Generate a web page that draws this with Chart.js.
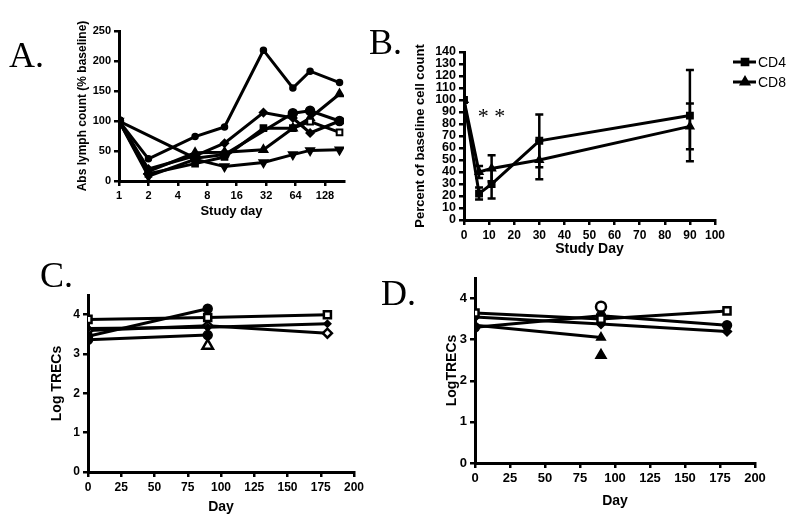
<!DOCTYPE html>
<html><head><meta charset="utf-8">
<script src="https://cdn.jsdelivr.net/npm/chart.js@4"></script>
<style>
html,body{margin:0;padding:0;background:#fff;width:800px;height:525px;overflow:hidden}
canvas{position:absolute;left:0;top:0}
.lbl{position:absolute;font-family:"Liberation Serif","Times New Roman",serif;font-size:36px;color:#000;line-height:1}
</style></head><body>
<canvas id="cA" width="800" height="525"></canvas>
<canvas id="cB" width="800" height="525"></canvas>
<canvas id="cC" width="800" height="525"></canvas>
<canvas id="cD" width="800" height="525"></canvas>
<div class="lbl" style="left:9px;top:37px">A.</div>
<div class="lbl" style="left:369px;top:24px">B.</div>
<div class="lbl" style="left:40px;top:257px">C.</div>
<div class="lbl" style="left:381px;top:275px">D.</div>
<script>
// ---------- Panel A data ----------
const aDays = [1, 2, 6, 12, 30, 60, 90, 180];
const aXTicks = [1, 2, 4, 8, 16, 32, 64, 128];
const aYTicks = [0, 50, 100, 150, 200, 250];
const aS1 = [100, 37, 74, 90, 218, 155, 183, 164];
const aS2 = [100, 20, 42, 63, 114, 105, 80, 100];
const aS3 = [100, 12, 29, 40, 88, 88, 99, 81];
const aS4 = [100, 16, 47, 48, 52, 88, 105, 145];
const aS5 = [100, 8, 36, 24, 31, 44, 51, 52];
const aS6 = [100, null, 38, 44, null, 113, 117, 100];

// ---------- Panel B data ----------
const bDays = [0, 6, 11, 30, 90];
const bXTicks = [0, 10, 20, 30, 40, 50, 60, 70, 80, 90, 100];
const bYTicks = [0, 10, 20, 30, 40, 50, 60, 70, 80, 90, 100, 110, 120, 130, 140];
const cd4 = [100, 22, 30, 66, 87];
const cd4Err = [0, 5, 12, 22, 38];
const cd8 = [100, 40, 43, 50, 78];
const cd8Err = [0, 5, 11, 16, 19];
const bLegend = ["CD4", "CD8"];

// ---------- Panel C data ----------
const cDays = [0, 90, 180];
const cdXTicks = [0, 25, 50, 75, 100, 125, 150, 175, 200];
const cdYTicks = [0, 1, 2, 3, 4];
const c1 = [3.88, 3.93, 4.00];
const c2 = [3.45, 4.15, null];
const c3 = [3.65, 3.68, 3.77];
const c4 = [3.60, 3.72, 3.53];
const c5 = [3.36, 3.48, null];
const c6 = [null, 3.21, null];

// ---------- Panel D data ----------
const d1 = [3.65, 3.50, 3.70];
const d2 = [3.55, 3.38, 3.20];
const d3 = [3.35, 3.05, null];
const d4 = [3.30, 3.58, 3.35];
const d5 = [null, 3.80, null];
const d6 = [null, 2.62, null];

Chart.defaults.font.family = '"Liberation Sans", Arial, sans-serif';
Chart.defaults.font.weight = 'bold';
Chart.defaults.color = '#000';
Chart.defaults.animation = false;

function pts(xs, ys) { return xs.map((x, i) => ({x: x, y: ys[i]})); }

function layout(p) {
  const padL = p.ytx - p.ylh / 2;
  const yW = p.L - padL;
  const xBottom = p.xty + p.xlh / 2;
  const xH = xBottom - p.B;
  return {padding: {left: padL, top: p.T, right: 800 - p.R, bottom: 525 - xBottom}, yW: yW, xH: xH};
}

function ds(data, style, opts) {
  return Object.assign({
    data: data, borderColor: '#000', borderWidth: 3, pointStyle: style,
    pointBackgroundColor: '#000', pointBorderColor: '#000', pointBorderWidth: 1.5,
    pointRadius: 4, spanGaps: true, tension: 0, fill: false
  }, opts || {});
}

function axisCommon(tickSize) {
  return {
    grid: {display: true, drawOnChartArea: false, drawTicks: true, tickLength: 5, color: '#000', lineWidth: 2.5},
    border: {display: true, color: '#000', width: 3},
    ticks: {autoSkip: false, maxRotation: 0, padding: 3, font: {size: tickSize, weight: 'bold'}, color: '#000'}
  };
}

function makeChart(id, lay, datasets, xCfg, yCfg, plugins) {
  const L = layout(lay);
  const xs = axisCommon(xCfg.tickSize);
  const ys = axisCommon(yCfg.tickSize);
  xs.type = xCfg.type || 'linear';
  xs.position = 'bottom';
  xs.min = xCfg.min; xs.max = xCfg.max;
  xs.offset = false;
  xs.afterBuildTicks = s => { s.ticks = xCfg.ticks.map(v => ({value: v})); };
  xs.afterFit = s => { s.height = L.xH; };
  xs.ticks.callback = v => String(v);
  xs.title = {display: true, text: xCfg.title, font: {size: xCfg.titleSize, weight: 'bold'}, padding: 0, color: '#000'};
  ys.type = 'linear';
  ys.min = yCfg.min; ys.max = yCfg.max;
  ys.afterBuildTicks = s => { s.ticks = yCfg.ticks.map(v => ({value: v})); };
  ys.afterFit = s => { s.width = L.yW; };
  ys.ticks.callback = v => String(v);
  ys.title = {display: true, text: yCfg.title, font: {size: yCfg.titleSize, weight: 'bold'}, padding: 0, color: '#000'};
  return new Chart(document.getElementById(id), {
    type: 'line',
    data: {datasets: datasets},
    options: {
      responsive: false, animation: false,
      layout: {padding: L.padding},
      plugins: {legend: {display: false}, tooltip: {enabled: false}},
      scales: {x: xs, y: ys}
    },
    plugins: plugins || []
  });
}

// ---------- Panel A ----------
makeChart('cA',
  {L: 119, T: 31, R: 344, B: 181, ytx: 83, ylh: 14.4, xty: 211, xlh: 15.6},
  [
    ds(pts(aDays, aS1), 'circle', {pointRadius: 3}),
    ds(pts(aDays, aS2), 'rectRot', {pointRadius: 4}),
    ds(pts(aDays, aS3), 'rect', {pointRadius: 4, pointBackgroundColor: ['#000','#000','#000','#000','#000','#000','#fff','#fff'], pointBorderWidth: 2}),
    ds(pts(aDays, aS4), 'triangle', {pointRadius: 5}),
    ds(pts(aDays, aS5), 'triangle', {pointRadius: 5, pointRotation: 180}),
    ds(pts(aDays, aS6), 'circle', {pointRadius: 4.5})
  ],
  {type: 'logarithmic', min: 1, max: 200, ticks: aXTicks, tickSize: 11, title: 'Study day', titleSize: 13},
  {min: 0, max: 250, ticks: aYTicks, tickSize: 11, title: 'Abs lymph count (% baseline)', titleSize: 12}
);

// ---------- Panel B ----------
const errPlugin = {
  id: 'errbars',
  afterDatasetsDraw(chart) {
    const ctx = chart.ctx, xS = chart.scales.x, yS = chart.scales.y;
    ctx.save();
    ctx.strokeStyle = '#000'; ctx.lineWidth = 2.5;
    chart.data.datasets.forEach(d => {
      if (!d.errors) return;
      d.data.forEach((p, i) => {
        const e = d.errors[i];
        if (!e) return;
        const x = xS.getPixelForValue(p.x);
        const y1 = yS.getPixelForValue(p.y + e), y2 = yS.getPixelForValue(p.y - e);
        ctx.beginPath();
        ctx.moveTo(x, y1); ctx.lineTo(x, y2);
        ctx.moveTo(x - 4, y1); ctx.lineTo(x + 4, y1);
        ctx.moveTo(x - 4, y2); ctx.lineTo(x + 4, y2);
        ctx.stroke();
      });
    });
    // significance stars
    ctx.fillStyle = '#000';
    ctx.font = '22px "Liberation Serif", serif';
    ctx.textAlign = 'center'; ctx.textBaseline = 'middle';
    ctx.fillText('* *', xS.getPixelForValue(11), yS.getPixelForValue(86));
    // legend
    const items = [{t: bLegend[0], s: 'rect'}, {t: bLegend[1], s: 'triangle'}];
    items.forEach((it, k) => {
      const ly = 62 + k * 20;
      ctx.lineWidth = 3;
      ctx.beginPath(); ctx.moveTo(733, ly); ctx.lineTo(756, ly); ctx.stroke();
      Chart.helpers.drawPoint(ctx, {pointStyle: it.s, radius: 4, borderWidth: 1}, 745, ly);
      ctx.fillStyle = '#000';
      ctx.fill();
      ctx.font = '14px "Liberation Sans", Arial, sans-serif';
      ctx.textAlign = 'left';
      ctx.fillText(it.t, 758, ly + 1);
    });
    ctx.restore();
  }
};
makeChart('cB',
  {L: 464, T: 52, R: 715, B: 220, ytx: 420, ylh: 15.6, xty: 249, xlh: 16.8},
  [
    ds(pts(bDays, cd4), 'rect', {pointRadius: 4.5, errors: cd4Err}),
    ds(pts(bDays, cd8), 'triangle', {pointRadius: 4.5, errors: cd8Err})
  ],
  {min: 0, max: 100, ticks: bXTicks, tickSize: 12, title: 'Study Day', titleSize: 14},
  {min: 0, max: 140, ticks: bYTicks, tickSize: 12.5, title: 'Percent of baseline cell count', titleSize: 13},
  [errPlugin]
);

// ---------- Panel C ----------
makeChart('cC',
  {L: 88, T: 295, R: 354, B: 472, ytx: 57, ylh: 16.8, xty: 507, xlh: 16.8},
  [
    ds(pts(cDays, c1), 'rect', {pointRadius: 5, pointBackgroundColor: '#fff', pointBorderWidth: 2.5}),
    ds(pts(cDays, c2), 'circle', {pointRadius: 4.5}),
    ds(pts(cDays, c3), 'rectRot', {pointRadius: 3.5}),
    ds(pts(cDays, c4), 'rectRot', {pointRadius: 4.5, pointBackgroundColor: '#fff', pointBorderWidth: 2.5}),
    ds(pts(cDays, c5), 'circle', {pointRadius: 4.5}),
    ds(pts(cDays, c6), 'triangle', {pointRadius: 6, pointBackgroundColor: '#fff', pointBorderWidth: 2.5})
  ],
  {min: 0, max: 200, ticks: cdXTicks, tickSize: 12, title: 'Day', titleSize: 14},
  {min: 0, max: 4.5, ticks: cdYTicks, tickSize: 12, title: 'Log TRECs', titleSize: 14}
);

// ---------- Panel D ----------
makeChart('cD',
  {L: 475, T: 278, R: 755, B: 463, ytx: 452, ylh: 16.8, xty: 501, xlh: 16.8},
  [
    ds(pts(cDays, d1), 'rect', {pointRadius: 5, pointBackgroundColor: '#fff', pointBorderWidth: 2.5}),
    ds(pts(cDays, d2), 'rectRot', {pointRadius: 4.5}),
    ds(pts(cDays, d3), 'triangle', {pointRadius: 5}),
    ds(pts(cDays, d4), 'circle', {pointRadius: 4.5}),
    ds(pts(cDays, d5), 'circle', {pointRadius: 5, pointBackgroundColor: '#fff', pointBorderWidth: 2.5}),
    ds(pts(cDays, d6), 'triangle', {pointRadius: 6})
  ],
  {min: 0, max: 200, ticks: cdXTicks, tickSize: 13, title: 'Day', titleSize: 14},
  {min: 0, max: 4.5, ticks: cdYTicks, tickSize: 13, title: 'LogTRECs', titleSize: 14}
);
</script>
</body></html>
